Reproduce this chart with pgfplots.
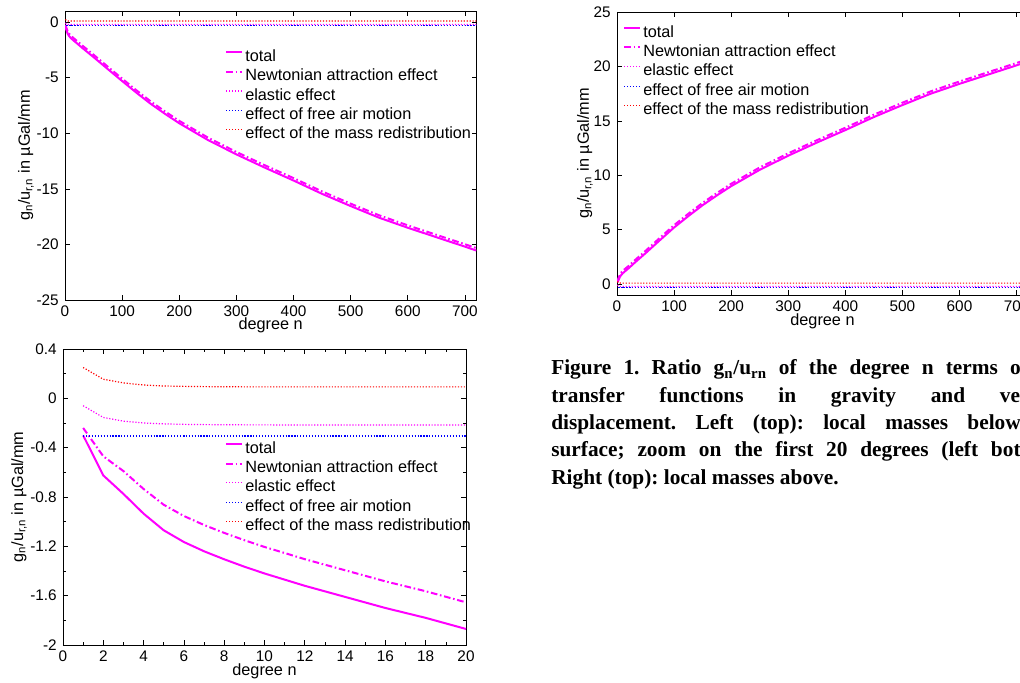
\documentclass[border=0pt]{standalone}
\usepackage{fontspec}
\setmainfont{Liberation Sans}
\newfontfamily\capfont{Liberation Serif}
\usepackage{pgfplots}
\usepackage{pgfplotstable}
\pgfplotsset{compat=1.18}
\definecolor{mmag}{rgb}{1,0,1}
\definecolor{mblue}{rgb}{0,0,1}
\definecolor{mred}{rgb}{1,0,0}

% columns: n, total, Newtonian, elastic, free air, mass redistribution
\pgfplotstableread{
n T N E F R
1 -0.300 -0.240 -0.060 -0.305 0.250
2 -0.625 -0.470 -0.155 -0.305 0.155
3 -0.775 -0.590 -0.185 -0.305 0.125
4 -0.935 -0.735 -0.200 -0.305 0.108
5 -1.070 -0.863 -0.207 -0.305 0.100
6 -1.165 -0.954 -0.211 -0.305 0.097
8 -1.305 -1.091 -0.214 -0.305 0.094
10 -1.420 -1.205 -0.215 -0.305 0.093
12 -1.520 -1.304 -0.216 -0.305 0.093
15 -1.655 -1.439 -0.216 -0.305 0.093
20 -1.870 -1.654 -0.216 -0.305 0.093
30 -2.310 -2.094 -0.216 -0.305 0.093
40 -2.730 -2.514 -0.216 -0.305 0.093
50 -3.150 -2.934 -0.216 -0.305 0.093
75 -4.230 -4.014 -0.216 -0.305 0.093
100 -5.300 -5.084 -0.216 -0.305 0.093
125 -6.350 -6.134 -0.216 -0.305 0.093
150 -7.350 -7.134 -0.216 -0.305 0.093
175 -8.250 -8.034 -0.216 -0.305 0.093
200 -9.100 -8.884 -0.216 -0.305 0.093
250 -10.600 -10.384 -0.216 -0.305 0.093
300 -11.900 -11.684 -0.216 -0.305 0.093
350 -13.100 -12.884 -0.216 -0.305 0.093
400 -14.250 -14.034 -0.216 -0.305 0.093
450 -15.450 -15.234 -0.216 -0.305 0.093
500 -16.550 -16.334 -0.216 -0.305 0.093
550 -17.600 -17.384 -0.216 -0.305 0.093
600 -18.500 -18.284 -0.216 -0.305 0.093
650 -19.350 -19.134 -0.216 -0.305 0.093
700 -20.200 -19.984 -0.216 -0.305 0.093
720 -20.550 -20.334 -0.216 -0.305 0.093
}\below

\pgfplotstableread{
n T N E F R
1 -0.300 -0.240 -0.060 -0.305 0.250
2 -0.625 -0.470 -0.155 -0.305 0.155
3 -0.775 -0.590 -0.185 -0.305 0.125
4 -0.935 -0.735 -0.200 -0.305 0.108
5 -1.070 -0.863 -0.207 -0.305 0.100
6 -1.165 -0.954 -0.211 -0.305 0.097
7 -1.240 -1.027 -0.213 -0.305 0.095
8 -1.305 -1.091 -0.214 -0.305 0.094
9 -1.365 -1.150 -0.215 -0.305 0.093
10 -1.420 -1.205 -0.215 -0.305 0.093
11 -1.470 -1.254 -0.216 -0.305 0.093
12 -1.520 -1.304 -0.216 -0.305 0.093
13 -1.565 -1.349 -0.216 -0.305 0.093
14 -1.610 -1.394 -0.216 -0.305 0.093
15 -1.655 -1.439 -0.216 -0.305 0.093
16 -1.700 -1.484 -0.216 -0.305 0.093
17 -1.740 -1.524 -0.216 -0.305 0.093
18 -1.780 -1.564 -0.216 -0.305 0.093
19 -1.825 -1.609 -0.216 -0.305 0.093
20 -1.870 -1.654 -0.216 -0.305 0.093
}\zoomed

\pgfplotstableread{
n T N E F R
1 0.180 0.240 -0.060 -0.305 0.250
2 0.315 0.470 -0.155 -0.305 0.155
3 0.405 0.590 -0.185 -0.305 0.125
4 0.535 0.735 -0.200 -0.305 0.108
5 0.656 0.863 -0.207 -0.305 0.100
6 0.743 0.954 -0.211 -0.305 0.097
8 0.877 1.091 -0.214 -0.305 0.094
10 0.990 1.205 -0.215 -0.305 0.093
12 1.088 1.304 -0.216 -0.305 0.093
15 1.223 1.439 -0.216 -0.305 0.093
20 1.438 1.654 -0.216 -0.305 0.093
30 1.920 2.136 -0.216 -0.305 0.093
40 2.380 2.596 -0.216 -0.305 0.093
50 2.840 3.056 -0.216 -0.305 0.093
75 4.030 4.246 -0.216 -0.305 0.093
100 5.200 5.416 -0.216 -0.305 0.093
125 6.250 6.466 -0.216 -0.305 0.093
150 7.250 7.466 -0.216 -0.305 0.093
175 8.150 8.366 -0.216 -0.305 0.093
200 9.000 9.216 -0.216 -0.305 0.093
250 10.500 10.716 -0.216 -0.305 0.093
300 11.800 12.016 -0.216 -0.305 0.093
350 13.000 13.216 -0.216 -0.305 0.093
400 14.150 14.366 -0.216 -0.305 0.093
450 15.350 15.566 -0.216 -0.305 0.093
500 16.450 16.666 -0.216 -0.305 0.093
550 17.500 17.716 -0.216 -0.305 0.093
600 18.400 18.616 -0.216 -0.305 0.093
650 19.250 19.466 -0.216 -0.305 0.093
700 20.100 20.316 -0.216 -0.305 0.093
720 20.450 20.666 -0.216 -0.305 0.093
}\above

\pgfplotsset{
  mlab/.style={
    scale only axis,
    tick align=inside,
    major tick length=3.5pt,
    minor tick length=2.2pt,
    every tick/.style={black, line width=0.5pt},
    axis line style={black, line width=0.6pt},
    tick label style={font=\fontsize{11.5}{12}\selectfont},
    label style={font=\fontsize{12.2}{13}\selectfont},
    xticklabel style={anchor=center, yshift=-8.6pt},
    yticklabel style={anchor=east, inner sep=0pt, xshift=-4.5pt},
    xlabel={degree n},
    ylabel={g\textsubscript{n}/u\textsubscript{r,n} in µGal/mm},
    legend cell align=left,
    legend style={draw=none, fill=none, anchor=north west, inner sep=0pt,
      font=\fontsize{12.2}{13}\selectfont, row sep=3pt, column sep=0pt,
      nodes={inner xsep=1.5pt, inner ysep=0pt, text height=9pt, text depth=2.5pt}},
    legend image code/.code={\draw[##1] (0pt,3.6pt) -- (12pt,3.6pt);},
    ltot/.style={mmag, line width=1.5pt},
    lnew/.style={mmag, line width=1.5pt, dash pattern=on 5pt off 2pt on 1.2pt off 2pt},
    lela/.style={mmag, line width=0.9pt, dash pattern=on 0.9pt off 1.3pt},
    lfree/.style={mblue, line width=0.9pt, dash pattern=on 0.9pt off 1.3pt},
    lmass/.style={mred, line width=0.9pt, dash pattern=on 0.9pt off 1.3pt},
  }
}

\begin{document}
\begin{tikzpicture}
\useasboundingbox (0,0) rectangle (765pt,511.5pt);
\clip (0,0) rectangle (765pt,511.5pt);

% top left: local masses below
\begin{axis}[mlab,
  at={(48.75pt,286.5pt)}, anchor=south west,
  width=308.5pt, height=216.75pt,
  xmin=0, xmax=720, ymin=-25, ymax=1,
  xtick={0,100,...,700}, xticklabels={0,100,200,300,400,500,600,700},
  ytick={-25,-20,...,0}, yticklabels={-25,-20,-15,-10,-5,0},
  xlabel style={at={(axis description cs:0.5,0)}, anchor=center, yshift=-19.3pt},
  ylabel style={at={(axis description cs:-0.0948,0.5)}, anchor=center},
  legend style={at={(axis description cs:0.389,0.868)}},
]
\addplot[ltot] table[x=n,y=T] {\below};
\addplot[lnew] table[x=n,y=N] {\below};
\addplot[lela] table[x=n,y=E] {\below};
\addplot[lfree] table[x=n,y=F] {\below};
\addplot[lmass] table[x=n,y=R] {\below};
\legend{total,Newtonian attraction effect,elastic effect,effect of free air motion,effect of the mass redistribution}
\end{axis}

% bottom left: zoom on first 20 degrees
\begin{axis}[mlab,
  at={(47.25pt,27.75pt)}, anchor=south west,
  width=302.25pt, height=222pt,
  xmin=0, xmax=20, ymin=-2, ymax=0.4,
  xtick={0,2,...,20}, xticklabels={0,2,4,6,8,10,12,14,16,18,20},
  ytick={-2,-1.6,-1.2,-0.8,-0.4,0,0.4}, yticklabels={-2,-1.6,-1.2,-0.8,-0.4,0,0.4},
  minor x tick num=1, minor y tick num=1,
  xlabel style={at={(axis description cs:0.5,0)}, anchor=center, yshift=-19.8pt},
  ylabel style={at={(axis description cs:-0.109,0.5)}, anchor=center},
  legend style={at={(axis description cs:0.402,0.689)}},
]
\addplot[ltot] table[x=n,y=T] {\zoomed};
\addplot[lnew] table[x=n,y=N] {\zoomed};
\addplot[lela] table[x=n,y=E] {\zoomed};
\addplot[lfree] table[x=n,y=F] {\zoomed};
\addplot[lmass] table[x=n,y=R] {\zoomed};
\legend{total,Newtonian attraction effect,elastic effect,effect of free air motion,effect of the mass redistribution}
\end{axis}

% top right: local masses above
\begin{axis}[mlab,
  at={(462.75pt,290.25pt)}, anchor=south west,
  width=308.25pt, height=212.25pt,
  xmin=0, xmax=720, ymin=-1, ymax=25,
  xtick={0,100,...,700}, xticklabels={0,100,200,300,400,500,600,700},
  ytick={0,5,...,25}, yticklabels={0,5,10,15,20,25},
  xlabel style={at={(axis description cs:0.5,0)}, anchor=center, yshift=-19.8pt},
  ylabel style={at={(axis description cs:-0.078,0.5)}, anchor=center},
  legend style={at={(axis description cs:0.0146,0.954)}},
]
\addplot[ltot] table[x=n,y=T] {\above};
\addplot[lnew] table[x=n,y=N] {\above};
\addplot[lela] table[x=n,y=E] {\above};
\addplot[lfree] table[x=n,y=F] {\above};
\addplot[lmass] table[x=n,y=R] {\above};
\legend{total,Newtonian attraction effect,elastic effect,effect of free air motion,effect of the mass redistribution}
\end{axis}

% caption
\begin{scope}[every node/.style={anchor=base west, inner sep=0pt,
   font=\capfont\bfseries\fontsize{16}{18}\selectfont\frenchspacing}]
\node at (413.25pt,230.25pt) {\makebox[388pt][s]{Figure 1. Ratio g\textsubscript{n}/u\textsubscript{rn} of the degree n terms of the}};
\node at (413.25pt,209.25pt) {\makebox[388pt][s]{transfer functions in gravity and vertical}};
\node at (413.25pt,189pt) {\makebox[388pt][s]{displacement. Left (top): local masses below the}};
\node at (413.25pt,168.75pt) {\makebox[388pt][s]{surface; zoom on the first 20 degrees (left bottom).}};
\node at (413.25pt,148.5pt) {Right (top): local masses above.};
\end{scope}
\end{tikzpicture}
\end{document}
